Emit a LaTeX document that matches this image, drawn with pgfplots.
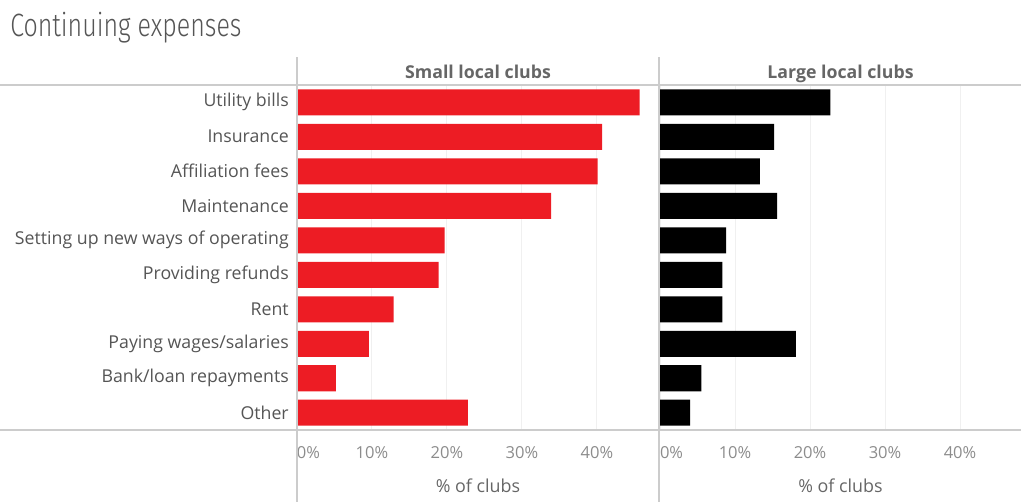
\documentclass[border=0pt]{standalone}
\usepackage{pgfplots}
\pgfplotsset{compat=1.18}
\usepackage{pgfplotstable}
\usepackage{fontspec}
\setmainfont{Open Sans}
\newfontfamily\titlefont[FakeStretch=0.775, UprightFont=* Light]{Fira Sans}
\definecolor{barred}{HTML}{ED1C24}
\definecolor{labgray}{HTML}{555555}
\definecolor{headgray}{HTML}{666666}
\definecolor{tickgray}{HTML}{8C8C8C}
\definecolor{linegray}{HTML}{CCCCCC}
\definecolor{gridgray}{HTML}{F0F0F0}

\pgfplotstableread{
idx small large
0 45.7 22.7
1 40.7 15.2
2 40.1 13.3
3 33.9 15.6
4 19.7 8.8
5 18.9 8.3
6 12.9 8.3
7 9.6 18.1
8 5.2 5.5
9 22.8 4.0
}\data

\pgfplotsset{
  panel/.style={
    scale only axis,
    height=258.75pt,
    ymin=-0.5, ymax=9.5, y dir=reverse,
    ytick={0,...,9},
    xmin=0,
    xtick={0,10,20,30,40},
    xticklabels={\makebox[0pt][l]{0\%},10\%,20\%,30\%,40\%},
    axis line style={draw=none},
    major tick length=0pt,
    xmajorgrids, major grid style={gridgray, line width=0.75pt},
    xticklabel style={tickgray, anchor=base, inner sep=0pt, yshift=-21.75pt, font=\fontsize{12.4pt}{14pt}\selectfont},
    yticklabel style={labgray, anchor=east, inner sep=0pt, xshift=-6pt, font=\fontsize{13.3pt}{15pt}\selectfont},
    xlabel={\% of clubs},
    xlabel style={at={(axis description cs:0.5,0)}, anchor=base, yshift=-46.5pt, inner sep=0pt, headgray, font=\fontsize{13.4pt}{15pt}\selectfont},
    title style={at={(axis description cs:0.5,1)}, anchor=base, yshift=-0.75pt, inner sep=0pt, headgray, font=\fontsize{13.3pt}{15pt}\selectfont\bfseries},
    clip=false,
  }
}

\begin{document}
\begin{tikzpicture}
\path[use as bounding box] (0,0) rectangle (765.75pt,376.5pt);

\node[anchor=base west, inner sep=0pt, text=labgray, font=\fontsize{24.2pt}{28pt}\titlefont] at (7.5pt,348.75pt) {Continuing expenses};

\begin{axis}[panel, at={(222.75pt,54pt)}, anchor=south west,
  width=271.5pt, xmax=48.27,
  yticklabels={Utility bills,Insurance,Affiliation fees,Maintenance,Setting up new ways of operating,Providing refunds,Rent,Paying wages/salaries,Bank/loan repayments,Other},
  title={Small local clubs}]
\addplot[xbar, fill=barred, draw=none, bar width=19.5pt] table[x=small, y=idx]{\data};
\end{axis}

\begin{axis}[panel, at={(495pt,54pt)}, anchor=south west,
  width=270.75pt, xmax=48.13,
  yticklabels={},
  title={Large local clubs}]
\addplot[xbar, fill=black, draw=none, bar width=19.5pt] table[x=large, y=idx]{\data};
\end{axis}

\draw[linegray, line width=0.9pt] (0,312.75pt) -- (765.75pt,312.75pt);
\draw[linegray, line width=0.9pt] (0,54pt) -- (765.75pt,54pt);
\draw[linegray, line width=0.9pt] (222.75pt,0) -- (222.75pt,333.75pt);
\draw[linegray, line width=0.9pt] (494.25pt,0) -- (494.25pt,333.75pt);
\end{tikzpicture}
\end{document}
